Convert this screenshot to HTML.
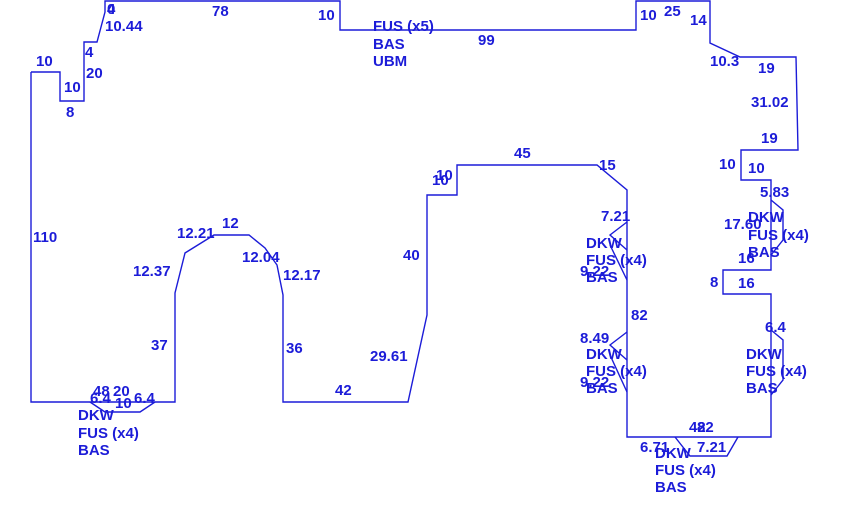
<!DOCTYPE html>
<html><head><style>
body{margin:0;background:#fff;}
svg text{font-family:"Liberation Sans",Arial,sans-serif;font-size:15px;font-weight:bold;fill:#1c1cd8;}
</style></head><body>
<svg width="848" height="518" viewBox="0 0 848 518" xmlns="http://www.w3.org/2000/svg">
<g fill="none" stroke="#1c1cd8" stroke-width="1.4">
<polyline points="31,72 60,72 60,101 84,101 84,42 97,42 105,12 105,1 340,1 340,30 636,30 636,1 710,1 710,43 740,57 796,57 798,150 741,150 741,180 771,180 771,270 723,270 723,294 771,294 771,437 627,437 627,190 597,165 457,165 457,195 427,195 427,315 408,402 283,402 283,295 277,265 265,248 249,235 214,235 185,253 175,293 175,402 31,402 31,72"/>
<polyline points="90,402 105,412 140,412 155,402"/>
<polyline points="675,437 690,456 727,456 738,437"/>
<polyline points="627,222 610,235 627,250"/>
<polyline points="610,245 627,280"/>
<polyline points="627,332 610,345 627,360"/>
<polyline points="610,355 627,392"/>
<polyline points="771,200 783,210 783,240 771,255"/>
<polyline points="771,330 783,340 783,380 771,395"/>
</g>
<text x="107" y="14">4</text><text x="107" y="14">0</text>
<text x="105" y="31">10.44</text>
<text x="212" y="16">78</text>
<text x="318" y="20">10</text>
<text x="373" y="31">FUS (x5)</text><text x="373" y="49">BAS</text><text x="373" y="66">UBM</text>
<text x="478" y="45">99</text>
<text x="640" y="20">10</text><text x="664" y="16">25</text><text x="690" y="25">14</text>
<text x="710" y="66">10.3</text><text x="758" y="73">19</text>
<text x="751" y="107">31.02</text><text x="761" y="143">19</text>
<text x="719" y="169">10</text><text x="748" y="173">10</text>
<text x="760" y="197">5.83</text>
<text x="724" y="229">17.60</text>
<text x="748" y="222">DKW</text><text x="748" y="240">FUS (x4)</text><text x="748" y="257">BAS</text>
<text x="738" y="263">16</text>
<text x="710" y="287">8</text><text x="738" y="288">16</text>
<text x="765" y="332">6.4</text>
<text x="746" y="359">DKW</text><text x="746" y="376">FUS (x4)</text><text x="746" y="393">BAS</text>
<text x="689" y="432">42</text><text x="697" y="432">82</text>
<text x="640" y="452">6.71</text><text x="697" y="452">7.21</text>
<text x="655" y="458">DKW</text><text x="655" y="475">FUS (x4)</text><text x="655" y="492">BAS</text>
<text x="599" y="170">15</text><text x="514" y="158">45</text>
<text x="601" y="221">7.21</text>
<text x="586" y="248">DKW</text><text x="586" y="265">FUS (x4)</text><text x="586" y="282">BAS</text>
<text x="580" y="276">9.22</text>
<text x="631" y="320">82</text>
<text x="580" y="343">8.49</text>
<text x="586" y="359">DKW</text><text x="586" y="376">FUS (x4)</text><text x="586" y="393">BAS</text>
<text x="580" y="387">9.22</text>
<text x="432" y="185">10</text><text x="436" y="180">10</text>
<text x="403" y="260">40</text><text x="370" y="361">29.61</text>
<text x="335" y="395">42</text><text x="286" y="353">36</text>
<text x="283" y="280">12.17</text><text x="242" y="262">12.04</text>
<text x="222" y="228">12</text><text x="177" y="238">12.21</text>
<text x="133" y="276">12.37</text><text x="151" y="350">37</text>
<text x="33" y="242">110</text>
<text x="36" y="66">10</text><text x="64" y="92">10</text><text x="66" y="117">8</text>
<text x="86" y="78">20</text><text x="85" y="57">4</text>
<text x="93" y="396">48</text><text x="113" y="396">20</text>
<text x="90" y="403">6.4</text><text x="115" y="408">10</text><text x="134" y="403">6.4</text>
<text x="78" y="420">DKW</text><text x="78" y="438">FUS (x4)</text><text x="78" y="455">BAS</text>
</svg>
</body></html>
